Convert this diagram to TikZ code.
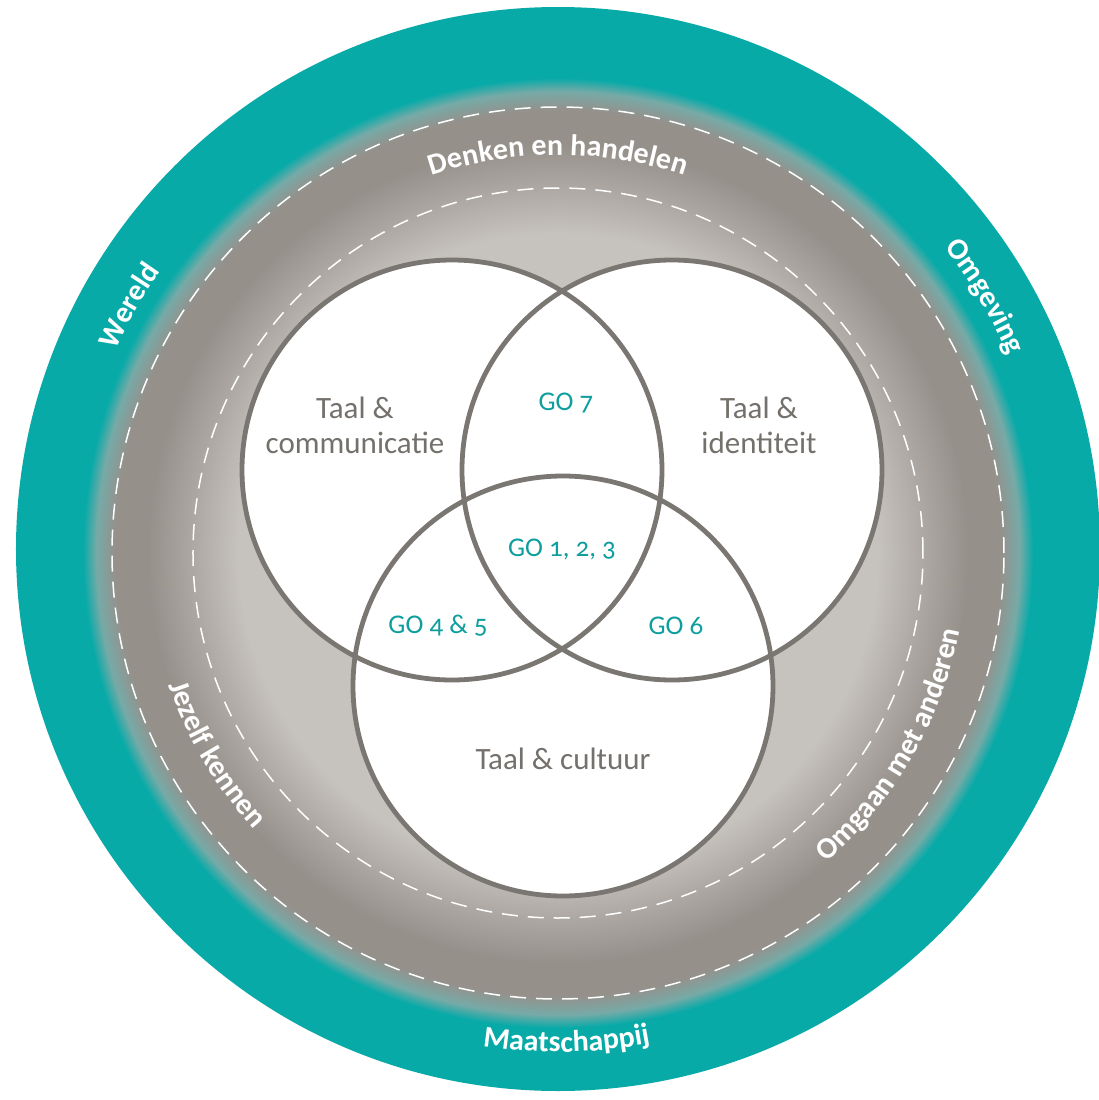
\documentclass[tikz,border=0pt]{standalone}
\usepackage{fontspec}
\setmainfont{Carlito}[Numbers=OldStyle]
\usetikzlibrary{decorations.text}
\definecolor{ringteal}{RGB}{8,170,168}
\definecolor{bandlight}{RGB}{198,194,190}
\definecolor{bandmid}{RGB}{170,165,160}
\definecolor{banddark}{RGB}{150,144,139}
\definecolor{bandedge}{RGB}{118,170,167}
\definecolor{vennline}{RGB}{122,118,114}
\definecolor{venntext}{RGB}{116,112,108}
\definecolor{gotext}{RGB}{14,158,158}
\pgfdeclareradialshading{bandshade}{\pgfpoint{0bp}{0bp}}{%
  color(0bp)=(bandlight); color(16.8bp)=(bandlight); color(19.5bp)=(bandmid);
  color(21.6bp)=(banddark); color(23.3bp)=(banddark); color(24.3bp)=(bandedge);
  color(25bp)=(ringteal); color(50bp)=(ringteal)}
\newcommand{\ringfont}{\fontsize{15}{17}\selectfont\bfseries\color{white}}
\tikzset{
  area/.style={font=\fontsize{15.5}{17.5}\selectfont, text=venntext, align=center},
  golabel/.style={font=\fontsize{13.5}{15}\selectfont, text=gotext},
  ringline/.style={white, line width=0.75pt, dash pattern=on 8pt off 5pt},
  venncirc/.style={draw=vennline, line width=2.4pt},
  ringtext/.style={decorate, decoration={text along path, text align=center, text={|\ringfont|#1}}}
}
\begin{document}
\begin{tikzpicture}[x=0.5pt,y=0.5pt]
\pgfmathsetmacro{\vr}{210}
\useasboundingbox (-558,-547) rectangle (541,553);
\fill[ringteal] (0,4) circle (542);
\shade[shading=bandshade] (0,0) circle (475);
\draw[ringline] (0,0) circle (446);
\draw[ringline] (0,0) circle (365);
\fill[white] (-106,83) circle (\vr) (114,83) circle (\vr) (5,-133) circle (\vr);
\draw[venncirc] (-106,83) circle (\vr);
\draw[venncirc] (114,83) circle (\vr);
\draw[venncirc] (5,-133) circle (\vr);
\node[area] (comm) at (-203,128) {Taal \&\\communicatie};
\node[area] (iden) at (201,128) {Taal \&\\identiteit};
\node[area] (cult) at (5,-206) {Taal \& cultuur};
\node[golabel] (go7) at (8,150) {GO 7};
\node[golabel] (go123) at (4,4) {GO 1, 2, 3};
\node[golabel] (go45) at (-120,-73) {GO 4 \& 5};
\node[golabel] (go6) at (118,-73) {GO 6};
\path[ringtext=Wereld] (175:487) arc[start angle=175, end angle=125, radius=487];
\path[ringtext=Omgeving] (56:492) arc[start angle=56, end angle=6, radius=492];
\path[ringtext=Denken en handelen] (130:398) arc[start angle=130, end angle=50, radius=398];
\path[ringtext=Jezelf kennen] (180.5:411) arc[start angle=180.5, end angle=240.5, radius=411];
\path[ringtext=Omgaan met anderen] (-70:409) arc[start angle=-70, end angle=10, radius=409];
\path[ringtext=Maatschappij] (-120:499) arc[start angle=-120, end angle=-58, radius=499];
\end{tikzpicture}
\end{document}
